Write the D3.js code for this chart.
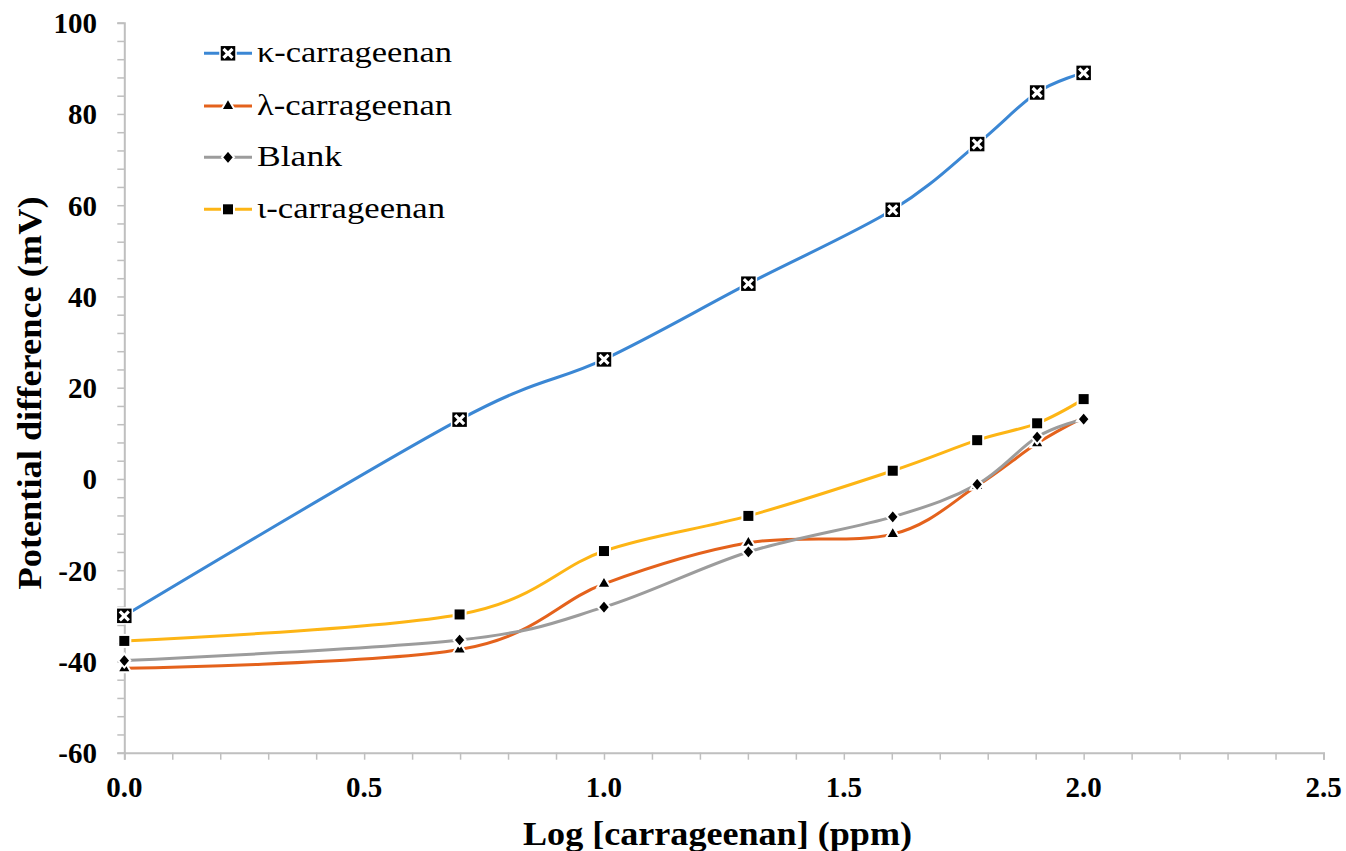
<!DOCTYPE html>
<html>
<head>
<meta charset="utf-8">
<script src="https://cdn.jsdelivr.net/npm/d3@7"></script>
<style>
  body { margin: 0; background: #fff; }
</style>
</head>
<body>
<script>
// log10 of concentration (ppm): 1, 5, 10, 20, 40, 60, 80, 100
var logConc = [0, 0.699, 1.0, 1.301, 1.602, 1.778, 1.903, 2.0];

var kappaVals  = [-30.0, 13.0, 26.2, 42.8, 59.0, 73.4, 84.7, 89.0];
var lambdaVals = [-41.5, -37.4, -23.0, -14.0, -12.1, -1.5, 7.8, 13.5];
var blankVals  = [-39.8, -35.3, -28.1, -16.0, -8.3, -1.2, 9.2, 13.1];
var iotaVals   = [-35.5, -29.7, -15.8, -8.1, 1.8, 8.5, 12.2, 17.5];

var seriesNames = ["κ-carrageenan", "λ-carrageenan", "Blank", "ι-carrageenan"];
var xTicks = [0, 0.5, 1.0, 1.5, 2.0, 2.5];
var yTicks = [-60, -40, -20, 0, 20, 40, 60, 80, 100];

window.onload = function(){

    var w = 1346, h = 851;
    var left = 124.3, right = 1323.5, top = 22.7, bottom = 752.7;
    var serif = "'Liberation Serif', 'Times New Roman', serif";

    var svg = d3.select("body").append("svg")
        .attr("width", w)
        .attr("height", h)
        .style("font-family", serif);

    var x = d3.scaleLinear().domain([0, 2.5]).range([left, right]);
    var y = d3.scaleLinear().domain([-60, 100]).range([bottom, top]);

    var axisColor = "#bfbfbf";

    // y axis, minor ticks every 4
    var yAxis = svg.append("g")
        .attr("transform", "translate(" + left + ",0)")
        .call(d3.axisLeft(y).tickValues(d3.range(-60, 101, 4)).tickSize(7).tickFormat(""));
    yAxis.select(".domain").attr("stroke", axisColor).attr("stroke-width", 2);
    yAxis.selectAll(".tick line").attr("stroke", axisColor).attr("stroke-width", 1.5);

    svg.append("g").selectAll("text")
        .data(yTicks).enter().append("text")
        .attr("x", 97)
        .attr("y", function(d){ return y(d); })
        .attr("dy", "0.36em")
        .attr("text-anchor", "end")
        .attr("font-family", serif)
        .attr("font-size", 29)
        .attr("font-weight", "bold")
        .text(function(d){ return d; });

    // x axis, minor ticks every 0.1
    var xAxis = svg.append("g")
        .attr("transform", "translate(0," + bottom + ")")
        .call(d3.axisBottom(x).tickValues(d3.range(0, 26).map(function(i){ return i / 10; })).tickSize(7).tickFormat(""));
    xAxis.select(".domain").attr("stroke", axisColor).attr("stroke-width", 2);
    xAxis.selectAll(".tick line").attr("stroke", axisColor).attr("stroke-width", 1.5);

    svg.append("g").selectAll("text")
        .data(xTicks).enter().append("text")
        .attr("x", function(d){ return x(d); })
        .attr("y", 797)
        .attr("text-anchor", "middle")
        .attr("font-family", serif)
        .attr("font-size", 29)
        .attr("font-weight", "bold")
        .text(function(d){ return d.toFixed(1); });

    // axis titles
    svg.append("text")
        .attr("x", 717.5)
        .attr("y", 845)
        .attr("text-anchor", "middle")
        .attr("font-family", serif)
        .attr("font-size", 33)
        .attr("font-weight", "bold")
        .attr("textLength", 389)
        .attr("lengthAdjust", "spacingAndGlyphs")
        .text("Log [carrageenan] (ppm)");

    svg.append("text")
        .attr("transform", "translate(41,393) rotate(-90)")
        .attr("text-anchor", "middle")
        .attr("font-family", serif)
        .attr("font-size", 33)
        .attr("font-weight", "bold")
        .attr("textLength", 393)
        .attr("lengthAdjust", "spacingAndGlyphs")
        .text("Potential difference (mV)");

    var series = [
        {name: seriesNames[0], vals: kappaVals,  color: "#3b87d4", marker: "xsquare"},
        {name: seriesNames[1], vals: lambdaVals, color: "#e4621c", marker: "triangle"},
        {name: seriesNames[2], vals: blankVals,  color: "#9c9c9c", marker: "diamond"},
        {name: seriesNames[3], vals: iotaVals,   color: "#fdb515", marker: "square"}
    ];

    var line = d3.line()
        .x(function(d){ return x(d[0]); })
        .y(function(d){ return y(d[1]); })
        .curve(d3.curveCardinal.tension(0));

    function drawMarker(g, type){
        if (type === "xsquare") {
            g.append("rect").attr("x", -8).attr("y", -8).attr("width", 16).attr("height", 16)
                .attr("fill", "#000").attr("stroke", "#fff").attr("stroke-width", 1.5);
            g.append("path").attr("d", "M-4.5,-4.5L4.5,4.5M-4.5,4.5L4.5,-4.5")
                .attr("stroke", "#fff").attr("stroke-width", 3.2);
        } else if (type === "triangle") {
            g.append("path").attr("d", d3.symbol().type(d3.symbolTriangle).size(80)())
                .attr("fill", "#000").attr("stroke", "#fff").attr("stroke-width", 2);
        } else if (type === "diamond") {
            g.append("path").attr("d", "M0,-7L6,0L0,7L-6,0Z")
                .attr("fill", "#000").attr("stroke", "#fff").attr("stroke-width", 2);
        } else {
            g.append("rect").attr("x", -6).attr("y", -6).attr("width", 12).attr("height", 12)
                .attr("fill", "#000").attr("stroke", "#fff").attr("stroke-width", 2);
        }
    }

    series.forEach(function(s){
        var pts = logConc.map(function(c, i){ return [c, s.vals[i]]; });
        svg.append("path")
            .datum(pts)
            .attr("d", line)
            .attr("fill", "none")
            .attr("stroke", s.color)
            .attr("stroke-width", 3);
    });

    series.forEach(function(s){
        logConc.forEach(function(c, i){
            var g = svg.append("g").attr("transform", "translate(" + x(c) + "," + y(s.vals[i]) + ")");
            drawMarker(g, s.marker);
        });
    });

    // legend
    var legendRows = [53.3, 106, 157.3, 209.3];
    var legendWidths = [195, 195, 85, 188];
    series.forEach(function(s, i){
        var g = svg.append("g").attr("transform", "translate(0," + legendRows[i] + ")");
        g.append("line").attr("x1", 204).attr("x2", 252).attr("y1", 0).attr("y2", 0)
            .attr("stroke", s.color).attr("stroke-width", 3);
        var m = g.append("g").attr("transform", "translate(228,0)");
        drawMarker(m, s.marker);
        g.append("text")
            .attr("x", 257)
            .attr("y", 9)
            .attr("font-family", serif)
            .attr("font-size", 29)
            .attr("textLength", legendWidths[i])
            .attr("lengthAdjust", "spacingAndGlyphs")
            .text(s.name);
    });
};
</script>
</body>
</html>
